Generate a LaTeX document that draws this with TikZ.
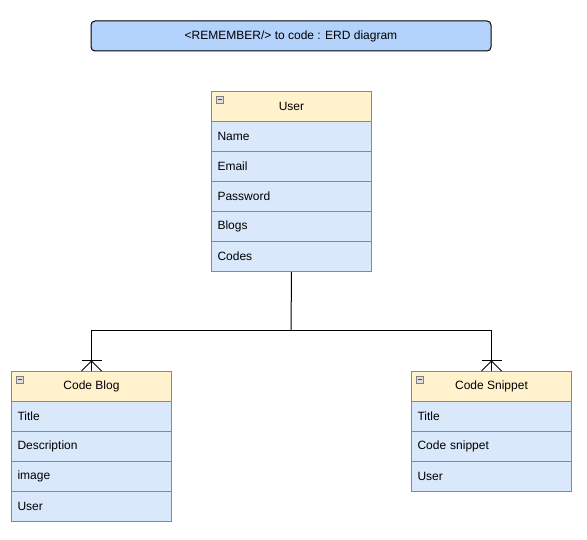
\documentclass[tikz,border=0pt]{standalone}
\usepackage{fontspec}
\setmainfont{Liberation Sans}
\definecolor{titlefill}{RGB}{179,211,253}
\definecolor{hdrfill}{RGB}{255,242,204}
\definecolor{rowfill}{RGB}{218,232,252}
\definecolor{bordercol}{RGB}{108,142,191}
\begin{document}
\begin{tikzpicture}[x=1pt,y=-1pt,line width=1pt,
  every node/.style={font=\fontsize{12}{14}\selectfont},
  titlebox/.style={draw=black,fill=titlefill,rounded corners=4pt,minimum width=400pt,minimum height=30pt,inner sep=0pt},
  hdr/.style={draw=bordercol,fill=hdrfill,minimum width=160pt,minimum height=30pt,inner sep=0pt,anchor=north west},
  row/.style={draw=bordercol,fill=rowfill,minimum height=30pt,text width=148pt,inner xsep=6pt,inner ysep=0pt,align=left,anchor=north west},
  minus/.style={draw=gray,fill=gray!25,line width=0.6pt,minimum size=7pt,inner sep=0pt,anchor=north west,
    path picture={\draw[line width=0.8pt,black!70] ([xshift=1.5pt]path picture bounding box.west) -- ([xshift=-1.5pt]path picture bounding box.east);}},
  link/.style={draw=black,line width=1pt}
]
\useasboundingbox (0,0) rectangle (587,540);
\fill[white] (0,0) rectangle (587,540);

\node[titlebox] (title) at (291,36) {<REMEMBER/> to code : ERD diagram};

% User entity
\node[hdr] (user) at (211,91) {\hspace*{0pt}User};
\node[minus] (userm) at (216,96) {};
\node[row] (uname) at (211,121) {Name};
\node[row] (uemail) at (211,151) {Email};
\node[row] (upass) at (211,181) {Password};
\node[row] (ublogs) at (211,211) {Blogs};
\node[row] (ucodes) at (211,241) {Codes};

% Code Blog entity
\node[hdr] (blog) at (11,371) {Code Blog};
\node[minus] (blogm) at (16,376) {};
\node[row] (btitle) at (11,401) {Title};
\node[row] (bdesc) at (11,431) {Description};
\node[row] (bimage) at (11,461) {image};
\node[row] (buser) at (11,491) {User};

% Code Snippet entity
\node[hdr] (snip) at (411,371) {Code Snippet};
\node[minus] (snipm) at (416,376) {};
\node[row] (stitle) at (411,401) {Title};
\node[row] (scode) at (411,431) {Code snippet};
\node[row] (suser) at (411,461) {User};

% connectors
\coordinate (j) at (291,331);
\draw[link] (ucodes.south) -- (j);
\draw[link] (j) -| (blog.north);
\draw[link] (j) -| (snip.north);

% crow's feet (one or many)
\foreach \n in {blog,snip}{
  \draw[link] ([xshift=-10pt,yshift=10pt]\n.north) -- ([xshift=10pt,yshift=10pt]\n.north);
  \draw[link] ([xshift=-10pt]\n.north) -- ([yshift=10pt]\n.north) -- ([xshift=10pt]\n.north);
}
\end{tikzpicture}
\end{document}
